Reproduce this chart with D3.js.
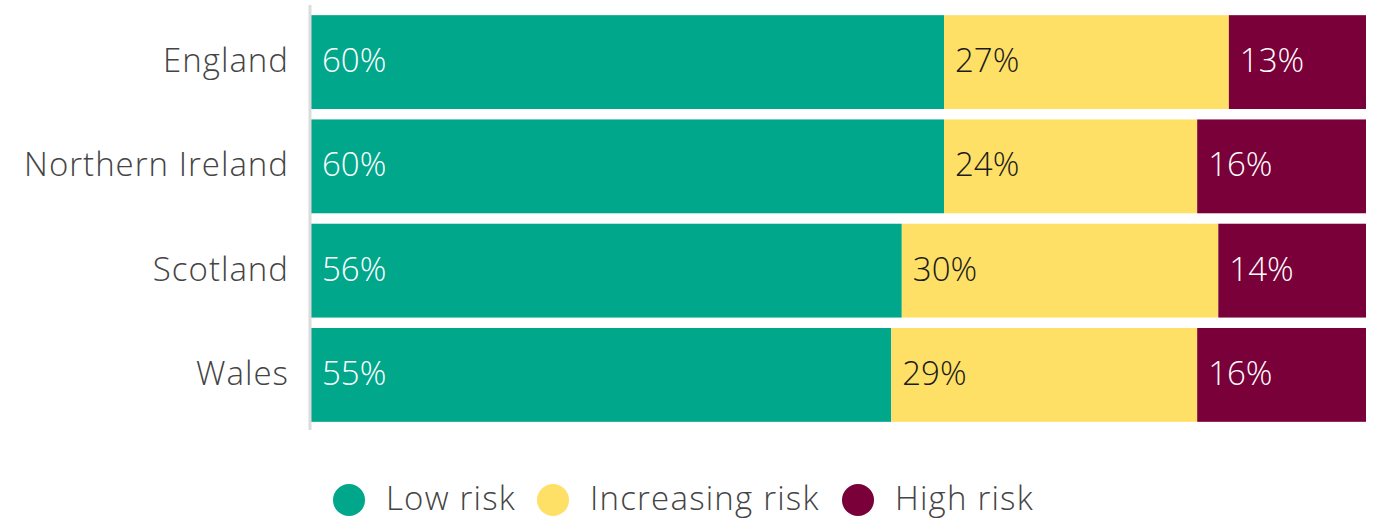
<!DOCTYPE html>
<html><head><meta charset="utf-8">
<script src="https://cdn.jsdelivr.net/npm/d3@7"></script>
<style>body{margin:0;background:#fff;}svg{display:block;}</style>
</head><body>
<svg id="c" width="1377" height="520"></svg>
<script>
const categories = ["England", "Northern Ireland", "Scotland", "Wales"];
const seriesNames = ["Low risk", "Increasing risk", "High risk"];
const lowRisk = [60, 60, 56, 55];
const increasingRisk = [27, 24, 30, 29];
const highRisk = [13, 16, 14, 16];
const colors = ["#00A78B", "#FFE066", "#7A0039"];
const labelColors = ["#ffffff", "#1a1a1a", "#ffffff"];

const font = "'Open Sans', sans-serif";
const svg = d3.select("#c");
const rows = categories.map((c, i) => ({cat: c, "Low risk": lowRisk[i], "Increasing risk": increasingRisk[i], "High risk": highRisk[i]}));
const stacked = d3.stack().keys(seriesNames)(rows);

const x = d3.scaleLinear().domain([0, 100]).range([311, 1366]);
const y = d3.scaleBand().domain(categories).range([11, 426]).paddingInner(0.1).paddingOuter(0.04);

stacked.forEach((s, si) => {
  const g = svg.append("g");
  g.selectAll("rect").data(s).enter().append("rect")
    .attr("x", d => x(d[0])).attr("width", d => x(d[1]) - x(d[0]))
    .attr("y", d => y(d.data.cat)).attr("height", y.bandwidth())
    .attr("fill", colors[si]);
  g.selectAll("text").data(s).enter().append("text")
    .attr("x", d => x(d[0]) + 11).attr("y", d => y(d.data.cat) + y.bandwidth() / 2)
    .attr("dy", "0.3em").attr("fill", labelColors[si])
    .style("font-family", font).style("font-size", "33px").style("font-weight", 300)
    .text(d => (d[1] - d[0]) + "%");
});

// axis
const yAxis = d3.axisLeft(y).tickSize(0).tickPadding(21);
const ag = svg.append("g").attr("transform", "translate(310,0)").call(yAxis);
ag.select(".domain").remove();
ag.selectAll("text").style("font-family", font).style("font-size", "33px").style("font-weight", 300)
  .style("letter-spacing", "1px").attr("fill", "#444").attr("dy", "0.3em");
svg.append("line").attr("x1", 310).attr("x2", 310).attr("y1", 5).attr("y2", 430)
  .attr("stroke", "#dcdcdc").attr("stroke-width", 3);

// legend
const legendX = [349, 553, 858];
const lg = svg.append("g");
seriesNames.forEach((n, i) => {
  lg.append("circle").attr("cx", legendX[i]).attr("cy", 500).attr("r", 16).attr("fill", colors[i]);
  lg.append("text").attr("x", legendX[i] + 37).attr("y", 500).attr("dy", "0.3em")
    .attr("fill", "#444").style("font-family", font).style("font-size", "33px").style("font-weight", 300)
    .style("letter-spacing", "1.2px").text(n);
});
</script>
</body></html>
